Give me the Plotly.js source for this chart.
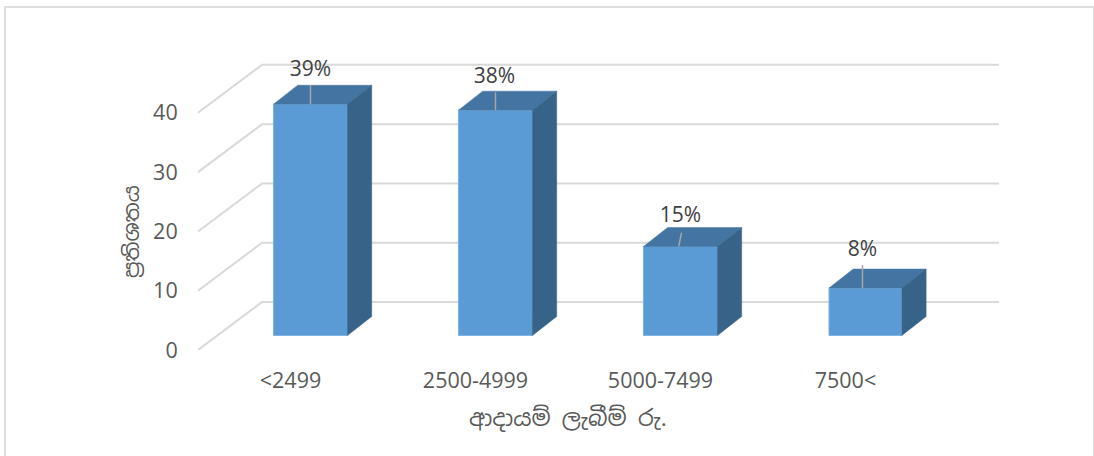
<!DOCTYPE html>
<html>
<head>
<meta charset="utf-8">
<script src="https://cdn.plot.ly/plotly-3.0.1.min.js"></script>
<style>
html,body{margin:0;padding:0;background:#fff;overflow:hidden}
#chart{position:absolute;left:0;top:0;width:1094px;height:456px}
#frame{position:absolute;left:4px;top:6px;width:1087px;height:470px;border:2px solid #dedede;pointer-events:none}
</style>
</head>
<body>
<div id="chart"></div>
<div id="frame"></div>
<script>
const categories = ['<2499', '2500-4999', '5000-7499', '7500<'];
const shares = [39, 38, 15, 8];
const gridValues = [0, 10, 20, 30, 40];
const xTitle = 'ආදායම් ලැබීම් රු.';
const yTitle = 'ප්‍රතිශතය';

// Oblique projection of the 3D floor, in axis units
const floorDx = 0.346, floorDy = 8.09;
const barOffsetX = 0.108, barOffsetY = 2.45;
const barW = [0.4, 0.4, 0.4, 0.394], barDx = 0.131, barDy = 3.2;
const xMin = -0.5, xMax = 3.83;
const labelLift = [5.6, 5.5, 5.0, 6.3];
const labelShift = [0, -0.005, 0, -0.016];
const leaderLen = [3.2, 3.0, 2.3, 3.9];
const leaderShift = [0, 0, -0.01, -0.016];
const leaderTilt = [0, 0, 0.016, 0];

const idx = categories.map((_, i) => i);
const left = idx.map(i => i + barOffsetX - barW[i] / 2);
const right = idx.map(i => i + barOffsetX + barW[i] / 2);
const tops = shares.map(v => v + barOffsetY);

const shapes = gridValues.map(v => ({
  type: 'path', layer: 'below', xref: 'x', yref: 'y',
  path: `M${xMin},${v} L${xMin + floorDx},${v + floorDy} L${xMax},${v + floorDy}`,
  line: {color: '#d9d9d9', width: 2}
}));

function polyTrace(xs, ys, color) {
  return {x: xs, y: ys, type: 'scatter', mode: 'lines', fill: 'toself', fillcolor: color,
          line: {color: color, width: 0.5}, hoverinfo: 'skip', showlegend: false};
}

const traces = [{
  type: 'bar',
  x: idx.map(i => i + barOffsetX),
  y: shares,
  base: idx.map(() => barOffsetY),
  width: barW,
  marker: {color: '#5b9bd5', line: {color: '#7fb2e2', width: 1}},
  hoverinfo: 'skip', showlegend: false
}];

idx.forEach(i => {
  // top face
  traces.push(polyTrace(
    [left[i], right[i], right[i] + barDx, left[i] + barDx, left[i]],
    [tops[i], tops[i], tops[i] + barDy, tops[i] + barDy, tops[i]],
    '#4475a2'));
  // side face
  traces.push(polyTrace(
    [right[i], right[i] + barDx, right[i] + barDx, right[i], right[i]],
    [barOffsetY, barOffsetY + barDy, tops[i] + barDy, tops[i], barOffsetY],
    '#376388'));
  // leader line
  traces.push({
    x: [i + barOffsetX + leaderShift[i], i + barOffsetX + leaderShift[i] + leaderTilt[i]],
    y: [tops[i], tops[i] + leaderLen[i]],
    type: 'scatter', mode: 'lines',
    line: {color: '#a6a6a6', width: 1.5}, hoverinfo: 'skip', showlegend: false
  });
});

traces.push({
  x: idx.map(i => i + barOffsetX + labelShift[i]),
  y: tops.map((t, i) => t + labelLift[i]),
  text: shares.map(v => v + '%'),
  type: 'scatter', mode: 'text', textposition: 'middle center',
  textfont: {family: '"Open Sans", sans-serif', size: 21, color: '#404040'},
  cliponaxis: false, hoverinfo: 'skip', showlegend: false
});

const layout = {
  width: 1094, height: 456,
  margin: {l: 198, r: 95, t: 50, b: 106, pad: 0},
  paper_bgcolor: '#ffffff', plot_bgcolor: 'rgba(0,0,0,0)',
  barmode: 'overlay', showlegend: false,
  shapes: shapes,
  xaxis: {
    type: 'linear', range: [xMin, xMax], tickmode: 'array', tickvals: idx, ticktext: categories,
    showgrid: false, zeroline: false, showline: false,
    ticks: 'outside', ticklen: 11, tickcolor: 'rgba(0,0,0,0)',
    tickfont: {family: '"Open Sans", sans-serif', size: 21.5, color: '#595959'}
  },
  yaxis: {
    range: [0, 50.59], tickmode: 'array', tickvals: gridValues,
    showgrid: false, zeroline: false, showline: false,
    ticks: 'outside', ticklen: 15, tickcolor: 'rgba(0,0,0,0)',
    tickfont: {family: '"Open Sans", sans-serif', size: 21.5, color: '#595959'}
  },
  annotations: [
    {text: xTitle, xref: 'paper', yref: 'paper', x: (568 - 198) / 801, y: (350 - 418) / 300,
     xanchor: 'center', yanchor: 'middle', showarrow: false,
     font: {family: '"Noto Sans Sinhala", "Noto Sans", sans-serif', size: 22.5, color: '#595959'}},
    {text: yTitle, xref: 'paper', yref: 'paper', x: (131 - 198) / 801, y: (350 - 232) / 300,
     xanchor: 'center', yanchor: 'middle', textangle: -90, showarrow: false,
     font: {family: '"Noto Sans Sinhala", "Noto Sans", sans-serif', size: 21, color: '#595959'}}
  ]
};

Plotly.newPlot('chart', traces, layout, {displayModeBar: false, staticPlot: true});
</script>
</body>
</html>
